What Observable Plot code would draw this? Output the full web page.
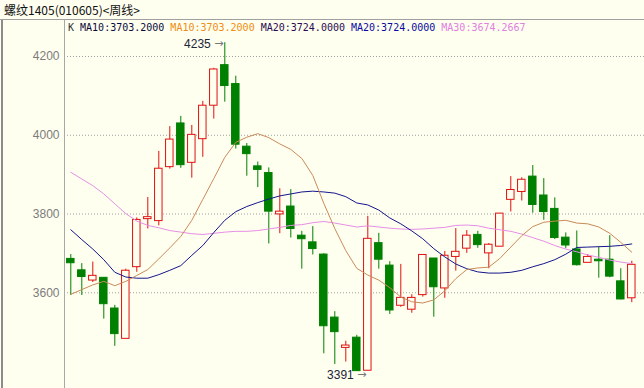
<!DOCTYPE html>
<html>
<head>
<meta charset="utf-8">
<script src="https://cdn.jsdelivr.net/npm/d3@7"></script>
<script src="https://cdn.jsdelivr.net/npm/@observablehq/plot@0.6"></script>
<style>
  html, body { margin: 0; padding: 0; background: #fffff0; }
  #wrap { position: relative; width: 644px; height: 388px; overflow: hidden; background: #fffff0; }
  #title { position: absolute; left: 4px; top: 2px; font: 12px "Noto Sans CJK SC", sans-serif; line-height: 16px; color: #111; white-space: nowrap; }
  #hline { position: absolute; left: 0; top: 19px; width: 644px; height: 1px; background: #a0a0a0; }
  #vline { position: absolute; left: 1px; top: 20px; width: 2px; height: 368px; background: #8c8c8c; }
  #chart { position: absolute; left: 0; top: 20px; }
  #legend { position: absolute; left: 68px; top: 21px; font: 10px "DejaVu Sans Mono", monospace; line-height: 13px; white-space: pre; }
</style>
</head>
<body>
<div id="wrap">
  <div id="title"></div>
  <div id="hline"></div>
  <div id="vline"></div>
  <div id="chart"></div>
  <div id="legend"></div>
</div>
<script>
// ---- data ----
const titleText = "螺纹1405(010605)<周线>";
const open  = [3686,3657,3631,3638,3560,3483,3665,3787,3782,3919,4030,3930,3990,4075,4178,4130,3971,3921,3904,3799,3819,3745,3728,3697,3537,3460,3486,3402,3726,3669,3567,3557,3594,3687,3611,3691,3712,3747,3700,3717,3836,3856,3895,3847,3813,3740,3710,3676,3684,3684,3629,3586];
const close = [3675,3640,3643,3571,3495,3656,3785,3792,3915,3989,3924,4001,4075,4167,4125,3976,3952,3912,3806,3806,3762,3736,3711,3515,3500,3466,3401,3737,3684,3555,3587,3587,3696,3614,3694,3704,3745,3721,3722,3801,3861,3887,3823,3805,3739,3720,3670,3691,3680,3641,3583,3671];
const high  = [3697,3674,3678,3638,3568,3660,3790,3842,3959,4022,4048,4025,4086,4170,4235,4150,3979,3932,3917,3864,3862,3756,3768,3699,3552,3477,3492,3794,3751,3679,3672,3595,3696,3687,3705,3763,3758,3756,3725,3801,3895,3892,3923,3890,3841,3752,3757,3697,3716,3745,3661,3680];
const low   = [3593,3593,3626,3533,3464,3483,3652,3762,3770,3914,3916,3891,3944,4041,4084,3965,3896,3867,3724,3750,3739,3660,3696,3445,3418,3424,3401,3402,3660,3545,3563,3548,3589,3538,3586,3655,3700,3713,3661,3717,3805,3833,3802,3784,3735,3712,3668,3676,3637,3638,3582,3575];
const ma10  = [3596,3608,3620,3629,3618,3629,3644,3659,3686,3714,3743,3784,3837,3890,3944,3982,3995,4004,3994,3978,3964,3941,3898,3827,3763,3707,3662,3645,3632,3613,3589,3577,3574,3582,3605,3636,3659,3663,3665,3687,3716,3745,3768,3779,3782,3784,3777,3775,3767,3751,3728,3703];
const ma20  = [3760,3735,3711,3684,3652,3640,3637,3637,3646,3657,3669,3695,3720,3753,3784,3806,3819,3829,3838,3846,3851,3856,3858,3856,3853,3844,3828,3823,3810,3790,3775,3757,3737,3712,3691,3673,3661,3653,3650,3650,3652,3657,3666,3674,3684,3698,3715,3716,3717,3718,3720,3724];
const ma30  = [3906,3889,3872,3851,3826,3801,3782,3771,3765,3758,3754,3750,3748,3751,3754,3756,3756,3758,3762,3766,3771,3773,3778,3781,3777,3772,3767,3770,3767,3764,3762,3761,3762,3764,3766,3771,3772,3770,3764,3760,3756,3749,3740,3731,3720,3711,3704,3696,3690,3683,3678,3674];
const yTicks = [3600, 3800, 4000, 4200];
const legendNames  = ["MA10", "MA10", "MA20", "MA20", "MA30"];
const legendValues = [3703.2, 3703.2, 3724.0, 3724.0, 3674.2667];
const legendColors = ["#0a0a3c", "#f08c10", "#2a0a50", "#0a0aa0", "#e080e0"];
const highLabel = "4235", lowLabel = "3391";
const highIdx = 14, lowIdx = 27;

// ---- styles ----
const bg = "#fffff0", red = "#e01010", green = "#008000";

document.getElementById("title").textContent = titleText;
const leg = document.getElementById("legend");
const k = document.createElement("span");
k.textContent = "K ";
k.style.color = "#333";
leg.appendChild(k);
legendNames.forEach((n, j) => {
  const s = document.createElement("span");
  s.textContent = n + ":" + legendValues[j].toFixed(4) + (j < legendNames.length - 1 ? " " : "");
  s.style.color = legendColors[j];
  leg.appendChild(s);
});

const candles = open.map((o, i) => ({i, o, c: close[i], h: high[i], l: low[i], up: close[i] >= o}));
const ups = candles.filter(d => d.up), downs = candles.filter(d => !d.up);
const lineData = (arr) => arr.map((v, i) => ({i, v}));
const hw = 0.34;

const chart = Plot.plot({
  width: 644,
  height: 368,
  marginLeft: 64, marginRight: 0, marginTop: 0, marginBottom: 0,
  style: {background: "transparent", overflow: "visible"},
  x: {type: "linear", domain: [-0.573, 52.155], axis: null},
  y: {domain: [3356.9, 4291.4], axis: null},
  marks: [
    Plot.gridY(yTicks, {stroke: "#a0a0a0", strokeOpacity: 1, strokeDasharray: "1,2"}),
    Plot.axisY(yTicks, {anchor: "left", tickSize: 0, tickPadding: 5, tickFormat: d => String(d),
      fontSize: 12, fontFamily: "Liberation Sans, Arial, sans-serif", fill: "#7c7c7c"}),
    Plot.frame({anchor: "left", stroke: "#a8a8a8", strokeOpacity: 1}),
    // down candles (green filled)
    Plot.ruleX(downs, {x: "i", y1: "l", y2: "h", stroke: green}),
    Plot.rect(downs, {x1: d => d.i - hw, x2: d => d.i + hw, y1: "o", y2: "c", fill: green, stroke: green}),
    // up candles (red hollow)
    Plot.ruleX(ups, {x: "i", y1: "l", y2: "h", stroke: red}),
    Plot.rect(ups, {x1: d => d.i - hw, x2: d => d.i + hw, y1: "o", y2: "c", fill: bg, stroke: red}),
    // moving averages
    Plot.line(lineData(ma30), {x: "i", y: "v", stroke: "#e68ee6", strokeWidth: 1}),
    Plot.line(lineData(ma20), {x: "i", y: "v", stroke: "#14148c", strokeWidth: 1}),
    Plot.line(lineData(ma10), {x: "i", y: "v", stroke: "#c98a5a", strokeWidth: 1}),
    // annotations
    Plot.text([candles[highIdx]], {x: "i", y: "h", text: () => highLabel, textAnchor: "end", dx: -14, dy: 1.5,
      fontSize: 12, fontFamily: "Liberation Sans, Arial, sans-serif", fill: "#1c2438"}),
    Plot.text([candles[highIdx]], {x: "i", y: "h", text: () => "→", textAnchor: "middle", dx: -6, dy: 0.5,
      fontSize: 11, fontFamily: "DejaVu Sans", fill: "#777"}),
    Plot.text([candles[lowIdx]], {x: "i", y: "l", text: () => lowLabel, textAnchor: "end", dx: -14, dy: 4,
      fontSize: 12, fontFamily: "Liberation Sans, Arial, sans-serif", fill: "#1c2438"}),
    Plot.text([candles[lowIdx]], {x: "i", y: "l", text: () => "→", textAnchor: "middle", dx: -6, dy: 3.5,
      fontSize: 11, fontFamily: "DejaVu Sans", fill: "#777"})
  ]
});
document.getElementById("chart").appendChild(chart);
</script>
</body>
</html>
